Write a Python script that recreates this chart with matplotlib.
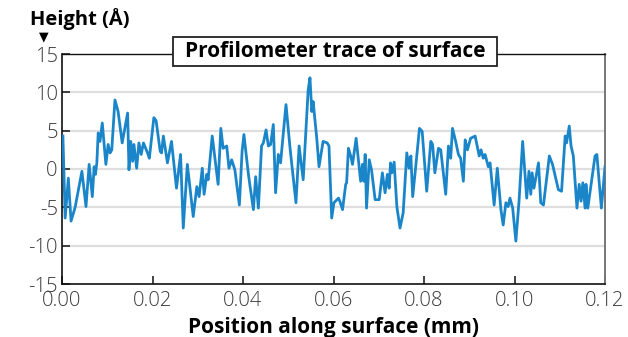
import matplotlib
matplotlib.use("Agg")
import matplotlib.pyplot as plt
from matplotlib.patches import Rectangle

# Data: position along surface (mm) and height (Å)
position_mm = [
    0.0002, 0.0007, 0.0014, 0.0020, 0.0029, 0.0044, 0.0053, 0.0060, 0.0067, 0.0071,
    0.0074, 0.0077, 0.0080, 0.0084, 0.0089, 0.0097, 0.0102, 0.0106, 0.0110, 0.0117,
    0.0124, 0.0133, 0.0145, 0.0148, 0.0152, 0.0156, 0.0159, 0.0165, 0.0170, 0.0175,
    0.0180, 0.0189, 0.0193, 0.0203, 0.0208, 0.0217, 0.0220, 0.0224, 0.0233, 0.0242,
    0.0253, 0.0262, 0.0268, 0.0277, 0.0290, 0.0298, 0.0303, 0.0310, 0.0314, 0.0320,
    0.0323, 0.0332, 0.0345, 0.0351, 0.0356, 0.0364, 0.0369, 0.0375, 0.0382, 0.0392,
    0.0398, 0.0402, 0.0412, 0.0415, 0.0423, 0.0428, 0.0434, 0.0441, 0.0445, 0.0451,
    0.0456, 0.0461, 0.0467, 0.0472, 0.0478, 0.0483, 0.0495, 0.0504, 0.0517, 0.0524,
    0.0533, 0.0544, 0.0548, 0.0552, 0.0555, 0.0563, 0.0568, 0.0577, 0.0586, 0.0590,
    0.0596, 0.0601, 0.0611, 0.0614, 0.0620, 0.0627, 0.0629, 0.0633, 0.0638, 0.0642,
    0.0650, 0.0660, 0.0664, 0.0667, 0.0670, 0.0673, 0.0679, 0.0684, 0.0692, 0.0701,
    0.0708, 0.0714, 0.0719, 0.0723, 0.0726, 0.0729, 0.0734, 0.0740, 0.0747, 0.0754,
    0.0762, 0.0767, 0.0771, 0.0775, 0.0780, 0.0790, 0.0796, 0.0806, 0.0815, 0.0819,
    0.0824, 0.0832, 0.0837, 0.0848, 0.0854, 0.0859, 0.0863, 0.0870, 0.0876, 0.0881,
    0.0887, 0.0891, 0.0896, 0.0903, 0.0913, 0.0922, 0.0926, 0.0931, 0.0935, 0.0942,
    0.0946, 0.0955, 0.0962, 0.0970, 0.0975, 0.0981, 0.0986, 0.0990, 0.0996, 0.1003,
    0.1010, 0.1018, 0.1027, 0.1032, 0.1036, 0.1039, 0.1043, 0.1053, 0.1058, 0.1064,
    0.1077, 0.1084, 0.1097, 0.1104, 0.1112, 0.1115, 0.1121, 0.1125, 0.1130, 0.1138,
    0.1143, 0.1147, 0.1151, 0.1156, 0.1158, 0.1162, 0.1178, 0.1182, 0.1192, 0.1200,
]
height_A = [
    4.3, -6.4, -1.2, -6.8, -5.0, -0.3, -4.9, 0.6, -3.6, 0.3,
    -0.7, 0.8, 4.7, 3.6, 6.0, 0.6, 3.2, 2.1, 2.5, 9.0,
    7.5, 3.4, 7.3, -0.1, 3.6, 1.0, 3.2, 0.1, 3.4, 1.9,
    3.4, 2.1, 1.4, 6.7, 6.3, 2.3, 2.1, 4.3, 0.8, 3.6,
    -2.5, 1.9, -7.7, 0.6, -6.2, -2.3, -3.6, 0.1, -3.3, -0.7,
    -1.4, 4.3, -2.0, 5.3, 2.7, 3.0, 0.1, 1.2, -0.1, -4.7,
    2.3, 4.5, -0.7, -2.0, -5.3, -1.0, -5.1, 3.0, 3.4, 5.1,
    3.0, 3.2, 5.8, -3.1, 1.9, 0.8, 8.4, 2.7, -4.4, 3.0,
    -1.4, 10.3, 11.9, 7.5, 8.8, 4.0, 0.3, 3.6, 3.4, 3.0,
    -6.4, -4.4, -3.8, -4.2, -5.3, -2.0, -1.8, 2.7, 1.7, 0.6,
    4.0, -1.6, 0.6, -1.6, 1.9, -5.1, 1.2, -0.1, -4.0, -4.0,
    -0.5, -3.1, -0.7, -2.5, 0.8, -0.5, 0.9, -4.9, -7.7, -5.7,
    2.1, 0.1, 1.7, -3.6, -0.7, 5.3, 4.9, -2.9, 3.6, 3.2,
    -0.5, 2.7, 2.5, -3.3, 3.0, 1.4, 5.3, 3.6, 1.9, 1.4,
    -1.6, 3.8, 2.5, 4.0, 4.3, 1.7, 2.5, 1.4, 1.9, 0.3,
    0.8, -4.7, 0.1, -5.3, -7.3, -4.4, -4.9, -3.8, -5.1, -9.4,
    -4.2, 3.6, -3.8, -0.3, -3.3, -0.5, -2.5, 0.8, -4.4, -4.7,
    1.7, 0.6, -2.7, -2.9, 4.3, 3.4, 5.6, 3.0, 1.7, -5.1,
    -2.0, -4.2, -1.8, -5.1, -2.0, -5.1, 1.7, 1.9, -5.1, 0.3,
]
x_ticks = [0.00, 0.02, 0.04, 0.06, 0.08, 0.10, 0.12]
x_tick_labels = ["0.00", "0.02", "0.04", "0.06", "0.08", "0.10", "0.12"]
y_ticks = [-15, -10, -5, 0, 5, 10, 15]
y_tick_labels = ["-15", "-10", "-5", "0", "5", "10", "15"]

plt.rcParams['font.family'] = ['Open Sans', 'DejaVu Sans']

W, H = 628, 337
fig = plt.figure(figsize=(W / 100, H / 100), dpi=100)
ax = fig.add_axes([62 / W, 1 - 284 / H, (605 - 62) / W, (284 - 54) / H])

for yv in [-10, -5, 0, 5, 10]:
    ax.axhline(yv, color='#dedede', lw=1.6, zorder=1)

ax.plot(position_mm, height_A, color='#1a86c9', lw=2.0, zorder=3,
        solid_joinstyle='round')

ax.set_xlim(0, 0.12)
ax.set_ylim(-15, 15)
ax.set_xticks(x_ticks)
ax.set_xticklabels(x_tick_labels)
ax.set_yticks(y_ticks)
ax.set_yticklabels(y_tick_labels)
ax.tick_params(axis='both', direction='in', length=6, width=1.2,
               color='#222222', labelsize=14.5, labelcolor='#3a3a3a')
ax.tick_params(axis='x', pad=5)
ax.tick_params(axis='y', pad=3)
for lab in ax.get_xticklabels() + ax.get_yticklabels():
    lab.set_fontweight('light')

for s in ['left', 'bottom']:
    ax.spines[s].set_color('#111111')
    ax.spines[s].set_linewidth(1.2)
ax.spines['top'].set_color('#111111')
ax.spines['top'].set_linewidth(1.0)
ax.spines['right'].set_color('#777777')
ax.spines['right'].set_linewidth(1.4)

ax.set_xlabel("Position along surface (mm)", fontsize=15, fontweight='bold',
              labelpad=4)

# y label at top-left with arrow marker
fig.text(30 / W, 1 - 19 / H, "Height (Å)", fontsize=14.5, fontweight='bold',
         ha='left', va='center')
fig.text(44 / W, 1 - 37 / H, "▼", fontsize=9, ha='center', va='center',
         family='DejaVu Sans')

# title box
bx0, bx1 = (173 - 62) / 543, (497 - 62) / 543
by0, by1 = (284 - 66) / 230, (284 - 37) / 230
rect = Rectangle((bx0, by0), bx1 - bx0, by1 - by0, transform=ax.transAxes,
                 facecolor='white', edgecolor='#222222', lw=1.3,
                 clip_on=False, zorder=5)
ax.add_patch(rect)
ax.text((bx0 + bx1) / 2, (by0 + by1) / 2, "Profilometer trace of surface",
        transform=ax.transAxes, ha='center', va='center', fontsize=15,
        fontweight='bold', zorder=6)

fig.savefig("out.png", dpi=100)
